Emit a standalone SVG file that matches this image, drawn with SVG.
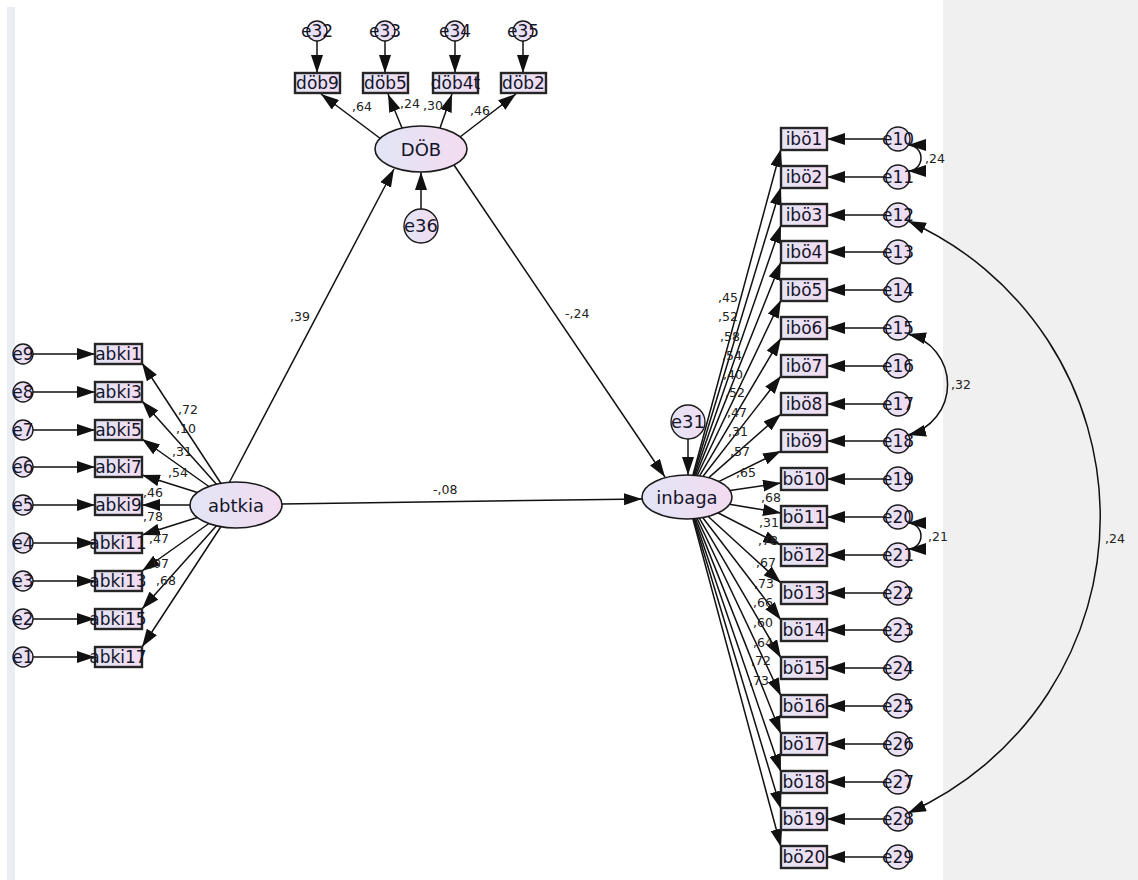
<svg xmlns="http://www.w3.org/2000/svg" width="1138" height="880" viewBox="0 0 1138 880">
<defs>
<linearGradient id="gf" x1="0" y1="0" x2="1" y2="0">
<stop offset="0" stop-color="#e2e5f6"/>
<stop offset="1" stop-color="#f3dbf0"/>
</linearGradient>
<marker id="ah" viewBox="0 0 18 12" refX="18" refY="6" markerWidth="18" markerHeight="12" markerUnits="userSpaceOnUse" orient="auto-start-reverse">
<path d="M0,0 L18,6 L0,12 z" fill="#111"/>
</marker>
<style>
.box{fill:url(#gf);stroke:#262626;stroke-width:2.4}
.lat{fill:url(#gf);stroke:#1a1a1a;stroke-width:1.6}
.err{fill:url(#gf);stroke:#1a1a1a;stroke-width:1.4}
.c{stroke:#111;stroke-width:1.5;fill:none;marker-end:url(#ah)}
.cov{stroke:#111;stroke-width:1.5;fill:none;marker-start:url(#ah);marker-end:url(#ah)}
text{font-family:"DejaVu Sans","Liberation Sans",sans-serif;fill:#15152a}
.n{font-size:17px;text-anchor:middle}
.lt{font-size:18px;text-anchor:middle}
.w{font-size:12.5px;fill:#222}
</style>
</defs>
<rect x="0" y="0" width="1138" height="880" fill="#ffffff"/>
<rect x="943" y="0" width="195" height="880" fill="#f0f0f0"/>
<rect x="7" y="7" width="8" height="873" fill="#eaeef4"/>

<g id="connectors">
<line class="c" x1="317" y1="41" x2="317" y2="73"/>
<line class="c" x1="385" y1="41" x2="385" y2="73"/>
<line class="c" x1="455" y1="41" x2="455" y2="73"/>
<line class="c" x1="523" y1="41" x2="523" y2="73"/>
<line class="c" x1="381" y1="139" x2="321" y2="94"/>
<line class="c" x1="402" y1="128" x2="388" y2="94"/>
<line class="c" x1="440" y1="128" x2="452" y2="94"/>
<line class="c" x1="460" y1="137" x2="516" y2="94"/>
<line class="c" x1="421" y1="209" x2="421" y2="172"/>
<line class="c" x1="229" y1="483" x2="394" y2="169"/>
<line class="c" x1="454" y1="165" x2="665" y2="477"/>
<line class="c" x1="282" y1="504" x2="642" y2="499"/>
<line class="c" x1="688" y1="439" x2="688" y2="475"/>
<line class="c" x1="33" y1="354" x2="95" y2="354"/>
<line class="c" x1="33" y1="392" x2="95" y2="392"/>
<line class="c" x1="33" y1="430" x2="95" y2="430"/>
<line class="c" x1="33" y1="467" x2="95" y2="467"/>
<line class="c" x1="33" y1="505" x2="95" y2="505"/>
<line class="c" x1="33" y1="543" x2="95" y2="543"/>
<line class="c" x1="33" y1="581" x2="95" y2="581"/>
<line class="c" x1="33" y1="619" x2="95" y2="619"/>
<line class="c" x1="33" y1="657" x2="95" y2="657"/>
<line class="c" x1="222" y1="485" x2="142" y2="363"/>
<line class="c" x1="218" y1="486" x2="142" y2="401"/>
<line class="c" x1="211" y1="488" x2="142" y2="439"/>
<line class="c" x1="199" y1="493" x2="142" y2="475"/>
<line class="c" x1="191" y1="505" x2="142" y2="505"/>
<line class="c" x1="199" y1="517" x2="142" y2="535"/>
<line class="c" x1="211" y1="522" x2="142" y2="571"/>
<line class="c" x1="218" y1="524" x2="142" y2="609"/>
<line class="c" x1="222" y1="525" x2="142" y2="647"/>
<line class="c" x1="692.6" y1="476.2" x2="781" y2="149"/>
<line class="c" x1="693.3" y1="476.2" x2="781" y2="187"/>
<line class="c" x1="694.2" y1="476.3" x2="781" y2="225"/>
<line class="c" x1="695.3" y1="476.4" x2="781" y2="262"/>
<line class="c" x1="696.8" y1="476.5" x2="781" y2="300"/>
<line class="c" x1="699" y1="476.8" x2="781" y2="338"/>
<line class="c" x1="702.3" y1="477.3" x2="781" y2="376"/>
<line class="c" x1="708" y1="478.4" x2="781" y2="414"/>
<line class="c" x1="718.1" y1="481.8" x2="781" y2="451"/>
<line class="c" x1="729.9" y1="490.6" x2="781" y2="483"/>
<line class="c" x1="729.3" y1="504.2" x2="781" y2="513"/>
<line class="c" x1="717.4" y1="512.5" x2="781" y2="545"/>
<line class="c" x1="707.4" y1="515.7" x2="781" y2="583"/>
<line class="c" x1="702.1" y1="516.8" x2="781" y2="620"/>
<line class="c" x1="698.8" y1="517.3" x2="781" y2="658"/>
<line class="c" x1="696.7" y1="517.5" x2="781" y2="696"/>
<line class="c" x1="695.2" y1="517.6" x2="781" y2="734"/>
<line class="c" x1="694.1" y1="517.7" x2="781" y2="772"/>
<line class="c" x1="693.3" y1="517.8" x2="781" y2="809"/>
<line class="c" x1="692.6" y1="517.8" x2="781" y2="847"/>
<line class="c" x1="886" y1="139" x2="827" y2="139"/>
<line class="c" x1="886" y1="177" x2="827" y2="177"/>
<line class="c" x1="886" y1="215" x2="827" y2="215"/>
<line class="c" x1="886" y1="252" x2="827" y2="252"/>
<line class="c" x1="886" y1="290" x2="827" y2="290"/>
<line class="c" x1="886" y1="328" x2="827" y2="328"/>
<line class="c" x1="886" y1="366" x2="827" y2="366"/>
<line class="c" x1="886" y1="404" x2="827" y2="404"/>
<line class="c" x1="886" y1="441" x2="827" y2="441"/>
<line class="c" x1="886" y1="479" x2="827" y2="479"/>
<line class="c" x1="886" y1="517" x2="827" y2="517"/>
<line class="c" x1="886" y1="555" x2="827" y2="555"/>
<line class="c" x1="886" y1="593" x2="827" y2="593"/>
<line class="c" x1="886" y1="630" x2="827" y2="630"/>
<line class="c" x1="886" y1="668" x2="827" y2="668"/>
<line class="c" x1="886" y1="706" x2="827" y2="706"/>
<line class="c" x1="886" y1="744" x2="827" y2="744"/>
<line class="c" x1="886" y1="782" x2="827" y2="782"/>
<line class="c" x1="886" y1="819" x2="827" y2="819"/>
<line class="c" x1="886" y1="857" x2="827" y2="857"/>
<path class="cov" d="M908,145 A13,13 0 0 1 908,171"/>
<path class="cov" d="M908,523 A13,13 0 0 1 908,549"/>
<path class="cov" d="M908,334 A52,52 0 0 1 908,435"/>
<path class="cov" d="M908,221 A324,324 0 0 1 908,813"/>
</g>

<g id="edge-labels">
<text class="w" x="352" y="111">,64</text>
<text class="w" x="400" y="108">,24</text>
<text class="w" x="423" y="110">,30</text>
<text class="w" x="470" y="115">,46</text>
<text class="w" x="290" y="321">,39</text>
<text class="w" x="565" y="318">-,24</text>
<text class="w" x="433" y="494">-,08</text>
<text class="w" x="178" y="414">,72</text>
<text class="w" x="176" y="433">,10</text>
<text class="w" x="172" y="456">,31</text>
<text class="w" x="168" y="477">,54</text>
<text class="w" x="143" y="497">,46</text>
<text class="w" x="143" y="521">,78</text>
<text class="w" x="149" y="543">,47</text>
<text class="w" x="149" y="568">,07</text>
<text class="w" x="156" y="585">,68</text>
<text class="w" x="718" y="302">,45</text>
<text class="w" x="718" y="321">,52</text>
<text class="w" x="720" y="341">,58</text>
<text class="w" x="722" y="360">,54</text>
<text class="w" x="723" y="379">,40</text>
<text class="w" x="725" y="397">,52</text>
<text class="w" x="727" y="417">,47</text>
<text class="w" x="728" y="436">,31</text>
<text class="w" x="730" y="456">,57</text>
<text class="w" x="736" y="477">,65</text>
<text class="w" x="761" y="502">,68</text>
<text class="w" x="759" y="527">,31</text>
<text class="w" x="758" y="545">,78</text>
<text class="w" x="756" y="567">,67</text>
<text class="w" x="754" y="588">,73</text>
<text class="w" x="753" y="607">,66</text>
<text class="w" x="753" y="627">,60</text>
<text class="w" x="753" y="647">,64</text>
<text class="w" x="751" y="665">,72</text>
<text class="w" x="749" y="685">,73</text>
<text class="w" x="925" y="163">,24</text>
<text class="w" x="951" y="389">,32</text>
<text class="w" x="928" y="541">,21</text>
<text class="w" x="1105" y="543">,24</text>
</g>

<g id="DOB"><ellipse class="lat" cx="421" cy="149" rx="46" ry="23"/><text class="lt" x="421" y="156">DÖB</text></g>
<g id="abtkia"><ellipse class="lat" cx="236" cy="505" rx="46" ry="23"/><text class="lt" x="236" y="512">abtkia</text></g>
<g id="inbaga"><ellipse class="lat" cx="687" cy="497" rx="45" ry="22"/><text class="lt" x="687" y="504">inbaga</text></g>
<g id="e36"><circle class="err" cx="421" cy="226" r="17"/><text class="lt" x="421" y="232">e36</text></g>
<g id="e31"><circle class="err" cx="688" cy="422" r="17"/><text class="lt" x="688" y="428">e31</text></g>

<g id="e32"><circle class="err" cx="317" cy="31" r="10"/><text class="n" x="317" y="37">e32</text></g>
<g id="e33"><circle class="err" cx="385" cy="31" r="10"/><text class="n" x="385" y="37">e33</text></g>
<g id="e34"><circle class="err" cx="455" cy="31" r="10"/><text class="n" x="455" y="37">e34</text></g>
<g id="e35"><circle class="err" cx="523" cy="31" r="10"/><text class="n" x="523" y="37">e35</text></g>
<g id="dob9"><rect class="box" x="295" y="73" width="45" height="20"/><text class="n" x="317.5" y="89">döb9</text></g>
<g id="dob5"><rect class="box" x="363" y="73" width="45" height="20"/><text class="n" x="385.5" y="89">döb5</text></g>
<g id="dob4t"><rect class="box" x="433" y="73" width="45" height="20"/><text class="n" x="455.5" y="89">döb4t</text></g>
<g id="dob2"><rect class="box" x="501" y="73" width="45" height="20"/><text class="n" x="523.5" y="89">döb2</text></g>

<g id="e9"><circle class="err" cx="23" cy="354" r="10"/><text class="n" x="23" y="360">e9</text></g>
<g id="e8"><circle class="err" cx="23" cy="392" r="10"/><text class="n" x="23" y="398">e8</text></g>
<g id="e7"><circle class="err" cx="23" cy="430" r="10"/><text class="n" x="23" y="436">e7</text></g>
<g id="e6"><circle class="err" cx="23" cy="467" r="10"/><text class="n" x="23" y="473">e6</text></g>
<g id="e5"><circle class="err" cx="23" cy="505" r="10"/><text class="n" x="23" y="511">e5</text></g>
<g id="e4"><circle class="err" cx="23" cy="543" r="10"/><text class="n" x="23" y="549">e4</text></g>
<g id="e3"><circle class="err" cx="23" cy="581" r="10"/><text class="n" x="23" y="587">e3</text></g>
<g id="e2"><circle class="err" cx="23" cy="619" r="10"/><text class="n" x="23" y="625">e2</text></g>
<g id="e1"><circle class="err" cx="23" cy="657" r="10"/><text class="n" x="23" y="663">e1</text></g>
<g id="abki1"><rect class="box" x="95" y="344" width="47" height="20"/><text class="n" x="118.5" y="360">abki1</text></g>
<g id="abki3"><rect class="box" x="95" y="382" width="47" height="20"/><text class="n" x="118.5" y="398">abki3</text></g>
<g id="abki5"><rect class="box" x="95" y="420" width="47" height="20"/><text class="n" x="118.5" y="436">abki5</text></g>
<g id="abki7"><rect class="box" x="95" y="457" width="47" height="20"/><text class="n" x="118.5" y="473">abki7</text></g>
<g id="abki9"><rect class="box" x="95" y="495" width="47" height="20"/><text class="n" x="118.5" y="511">abki9</text></g>
<g id="abki11"><rect class="box" x="95" y="533" width="47" height="20"/><text class="n" x="118" y="549" font-size="16">abki11</text></g>
<g id="abki13"><rect class="box" x="95" y="571" width="47" height="20"/><text class="n" x="118" y="587" font-size="16">abki13</text></g>
<g id="abki15"><rect class="box" x="95" y="609" width="47" height="20"/><text class="n" x="118" y="625" font-size="16">abki15</text></g>
<g id="abki17"><rect class="box" x="95" y="647" width="47" height="20"/><text class="n" x="118" y="663" font-size="16">abki17</text></g>

<g id="ibo1"><rect class="box" x="781" y="128" width="46" height="22"/><text class="n" x="804" y="145">ibö1</text></g>
<g id="ibo2"><rect class="box" x="781" y="166" width="46" height="22"/><text class="n" x="804" y="183">ibö2</text></g>
<g id="ibo3"><rect class="box" x="781" y="204" width="46" height="22"/><text class="n" x="804" y="221">ibö3</text></g>
<g id="ibo4"><rect class="box" x="781" y="241" width="46" height="22"/><text class="n" x="804" y="258">ibö4</text></g>
<g id="ibo5"><rect class="box" x="781" y="279" width="46" height="22"/><text class="n" x="804" y="296">ibö5</text></g>
<g id="ibo6"><rect class="box" x="781" y="317" width="46" height="22"/><text class="n" x="804" y="334">ibö6</text></g>
<g id="ibo7"><rect class="box" x="781" y="355" width="46" height="22"/><text class="n" x="804" y="372">ibö7</text></g>
<g id="ibo8"><rect class="box" x="781" y="393" width="46" height="22"/><text class="n" x="804" y="410">ibö8</text></g>
<g id="ibo9"><rect class="box" x="781" y="430" width="46" height="22"/><text class="n" x="804" y="447">ibö9</text></g>
<g id="bo10"><rect class="box" x="781" y="468" width="46" height="22"/><text class="n" x="804" y="485">bö10</text></g>
<g id="bo11"><rect class="box" x="781" y="506" width="46" height="22"/><text class="n" x="804" y="523">bö11</text></g>
<g id="bo12"><rect class="box" x="781" y="544" width="46" height="22"/><text class="n" x="804" y="561">bö12</text></g>
<g id="bo13"><rect class="box" x="781" y="582" width="46" height="22"/><text class="n" x="804" y="599">bö13</text></g>
<g id="bo14"><rect class="box" x="781" y="619" width="46" height="22"/><text class="n" x="804" y="636">bö14</text></g>
<g id="bo15"><rect class="box" x="781" y="657" width="46" height="22"/><text class="n" x="804" y="674">bö15</text></g>
<g id="bo16"><rect class="box" x="781" y="695" width="46" height="22"/><text class="n" x="804" y="712">bö16</text></g>
<g id="bo17"><rect class="box" x="781" y="733" width="46" height="22"/><text class="n" x="804" y="750">bö17</text></g>
<g id="bo18"><rect class="box" x="781" y="771" width="46" height="22"/><text class="n" x="804" y="788">bö18</text></g>
<g id="bo19"><rect class="box" x="781" y="808" width="46" height="22"/><text class="n" x="804" y="825">bö19</text></g>
<g id="bo20"><rect class="box" x="781" y="846" width="46" height="22"/><text class="n" x="804" y="863">bö20</text></g>

<g id="e10"><circle class="err" cx="898" cy="139" r="12"/><text class="n" x="898" y="145">e10</text></g>
<g id="e11"><circle class="err" cx="898" cy="177" r="12"/><text class="n" x="898" y="183">e11</text></g>
<g id="e12"><circle class="err" cx="898" cy="215" r="12"/><text class="n" x="898" y="221">e12</text></g>
<g id="e13"><circle class="err" cx="898" cy="252" r="12"/><text class="n" x="898" y="258">e13</text></g>
<g id="e14"><circle class="err" cx="898" cy="290" r="12"/><text class="n" x="898" y="296">e14</text></g>
<g id="e15"><circle class="err" cx="898" cy="328" r="12"/><text class="n" x="898" y="334">e15</text></g>
<g id="e16"><circle class="err" cx="898" cy="366" r="12"/><text class="n" x="898" y="372">e16</text></g>
<g id="e17"><circle class="err" cx="898" cy="404" r="12"/><text class="n" x="898" y="410">e17</text></g>
<g id="e18"><circle class="err" cx="898" cy="441" r="12"/><text class="n" x="898" y="447">e18</text></g>
<g id="e19"><circle class="err" cx="898" cy="479" r="12"/><text class="n" x="898" y="485">e19</text></g>
<g id="e20"><circle class="err" cx="898" cy="517" r="12"/><text class="n" x="898" y="523">e20</text></g>
<g id="e21"><circle class="err" cx="898" cy="555" r="12"/><text class="n" x="898" y="561">e21</text></g>
<g id="e22"><circle class="err" cx="898" cy="593" r="12"/><text class="n" x="898" y="599">e22</text></g>
<g id="e23"><circle class="err" cx="898" cy="630" r="12"/><text class="n" x="898" y="636">e23</text></g>
<g id="e24"><circle class="err" cx="898" cy="668" r="12"/><text class="n" x="898" y="674">e24</text></g>
<g id="e25"><circle class="err" cx="898" cy="706" r="12"/><text class="n" x="898" y="712">e25</text></g>
<g id="e26"><circle class="err" cx="898" cy="744" r="12"/><text class="n" x="898" y="750">e26</text></g>
<g id="e27"><circle class="err" cx="898" cy="782" r="12"/><text class="n" x="898" y="788">e27</text></g>
<g id="e28"><circle class="err" cx="898" cy="819" r="12"/><text class="n" x="898" y="825">e28</text></g>
<g id="e29"><circle class="err" cx="898" cy="857" r="12"/><text class="n" x="898" y="863">e29</text></g>
</svg>
